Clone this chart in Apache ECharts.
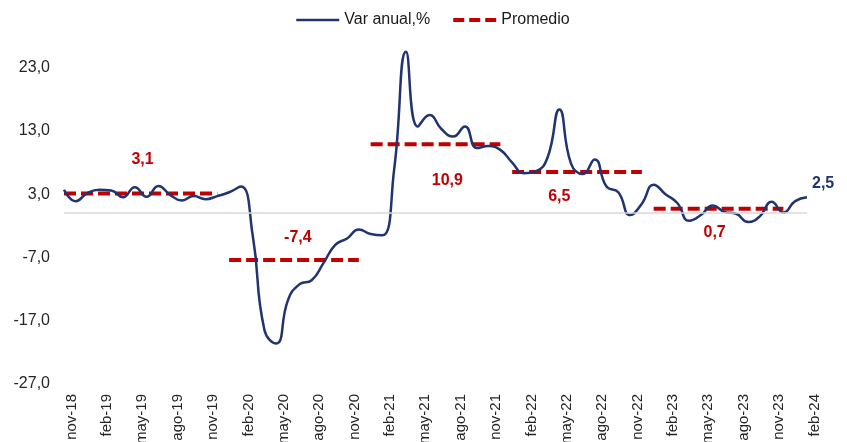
<!DOCTYPE html>
<html>
<head>
<meta charset="utf-8">
<script src="https://cdn.jsdelivr.net/npm/echarts@6/dist/echarts.min.js"></script>
<style>
  html, body { margin: 0; padding: 0; background: #fff; }
  #chart { width: 847px; height: 442px; }
</style>
</head>
<body>
<div id="chart"></div>
<script>
var months = [
  'nov-18', 'dic-18',
  'ene-19', 'feb-19', 'mar-19', 'abr-19', 'may-19', 'jun-19', 'jul-19', 'ago-19', 'sep-19', 'oct-19', 'nov-19', 'dic-19',
  'ene-20', 'feb-20', 'mar-20', 'abr-20', 'may-20', 'jun-20', 'jul-20', 'ago-20', 'sep-20', 'oct-20', 'nov-20', 'dic-20',
  'ene-21', 'feb-21', 'mar-21', 'abr-21', 'may-21', 'jun-21', 'jul-21', 'ago-21', 'sep-21', 'oct-21', 'nov-21', 'dic-21',
  'ene-22', 'feb-22', 'mar-22', 'abr-22', 'may-22', 'jun-22', 'jul-22', 'ago-22', 'sep-22', 'oct-22', 'nov-22', 'dic-22',
  'ene-23', 'feb-23', 'mar-23', 'abr-23', 'may-23', 'jun-23', 'jul-23', 'ago-23', 'sep-23', 'oct-23', 'nov-23', 'dic-23',
  'ene-24', 'feb-24'
];

var varAnual = [
  3.7, 1.9,
  3.2, 3.7, 3.6, 2.5, 4.1, 2.6, 4.3, 2.9, 2.0, 2.7, 2.2, 2.7,
  3.3, 4.2, -3.5, -18.5, -20.6, -13.7, -11.2, -10.6, -7.9, -5.0, -4.0, -2.6,
  -3.3, -3.5, 7.0, 25.5, 13.7, 15.5, 13.3, 12.1, 13.7, 10.3, 10.6, 10.0,
  8.0, 6.3, 6.6, 8.8, 16.4, 7.8, 6.2, 8.5, 4.2, 3.3, -0.3, 1.5,
  4.5, 3.0, 1.6, -1.2, -0.3, 1.2, 0.2, -0.1, -1.4, -0.5, 1.8, 0.1,
  1.9, 2.5
];

// promedio por periodo: valor, mes inicial, mes final
var promedio = [3.1, -7.4, 10.9, 6.5, 0.7];
var promedioDesde = ['nov-18', 'ene-20', 'ene-21', 'ene-22', 'ene-23'];
var promedioHasta = ['dic-19', 'dic-20', 'dic-21', 'dic-22', 'dic-23'];

var yTicks = [-27, -17, -7, 3, 13, 23];

var navy = '#1F3470';
var red = '#C00000';
var fmt = function (v) { return v.toFixed(1).replace('.', ','); };

// where each average label sits: month, dx, dy
var avgLabelLayout = [
  ['jun-19', -4, -34],
  ['jul-20', -2, -22],
  ['jul-21', 6, 36],
  ['may-22', 0, 25],
  ['jun-23', 2, 24]
];

var series = [{
  name: 'Var anual,%',
  type: 'line',
  data: varAnual,
  smooth: true,
  symbol: 'none',
  lineStyle: { color: navy, width: 2.5 },
  itemStyle: { color: navy },
  z: 3,
  endLabel: {
    show: true,
    formatter: function (p) { return fmt(p.value); },
    color: navy,
    fontWeight: 'bold',
    fontSize: 16,
    fontFamily: 'Liberation Sans',
    distance: 5,
    offset: [0, -14]
  },
  markLine: {
    silent: true,
    symbol: 'none',
    label: { show: false },
    lineStyle: { color: '#d9d9d9', type: 'solid', width: 1.5 },
    data: [{ yAxis: 0 }]
  }
}];

promedio.forEach(function (avg, k) {
  var from = months.indexOf(promedioDesde[k]);
  var to = months.indexOf(promedioHasta[k]);
  var data = months.map(function (m, i) { return (i >= from && i <= to) ? avg : null; });
  var lay = avgLabelLayout[k];
  series.push({
    name: 'Promedio',
    type: 'line',
    data: data,
    symbol: 'none',
    z: 2,
    lineStyle: { color: red, width: 4, type: [12, 5] },
    itemStyle: { color: red },
    markPoint: {
      silent: true,
      symbol: 'circle',
      symbolSize: 0,
      label: {
        show: true,
        formatter: function () { return fmt(avg); },
        color: red,
        fontWeight: 'bold',
        fontSize: 16,
        fontFamily: 'Liberation Sans',
        offset: [lay[1], lay[2]]
      },
      data: [{ coord: [lay[0], avg] }]
    }
  });
});

var option = {
  animation: false,
  textStyle: { fontFamily: 'Liberation Sans' },
  legend: {
    data: [
      { name: 'Var anual,%', lineStyle: { width: 2.5 } },
      { name: 'Promedio', lineStyle: { width: 4, type: [11, 5] } }
    ],
    top: 7,
    left: 290,
    itemWidth: 43,
    itemHeight: 14,
    itemGap: 21,
    itemStyle: { opacity: 0 },
    textStyle: { fontSize: 16, color: '#1a1a1a', fontFamily: 'Liberation Sans' }
  },
  grid: { left: 64, right: 40, top: 36, bottom: 58, outerBoundsMode: 'none', containLabel: false },
  xAxis: {
    type: 'category',
    data: months,
    boundaryGap: false,
    axisLine: { show: false },
    axisTick: { show: false },
    axisLabel: {
      interval: 2,
      rotate: 90,
      margin: 10,
      fontSize: 15,
      color: '#262626',
      verticalAlign: 'top'
    }
  },
  yAxis: {
    type: 'value',
    min: yTicks[0],
    max: 28,
    interval: yTicks[1] - yTicks[0],
    splitLine: { show: false },
    axisLine: { show: false },
    axisTick: { show: false },
    axisLabel: {
      showMaxLabel: false,
      margin: 14,
      fontSize: 16,
      color: '#262626',
      formatter: function (v) { return yTicks.indexOf(v) >= 0 ? fmt(v) : ''; }
    }
  },
  series: series
};

var chart = echarts.init(document.getElementById('chart'));
chart.setOption(option);
</script>
</body>
</html>
